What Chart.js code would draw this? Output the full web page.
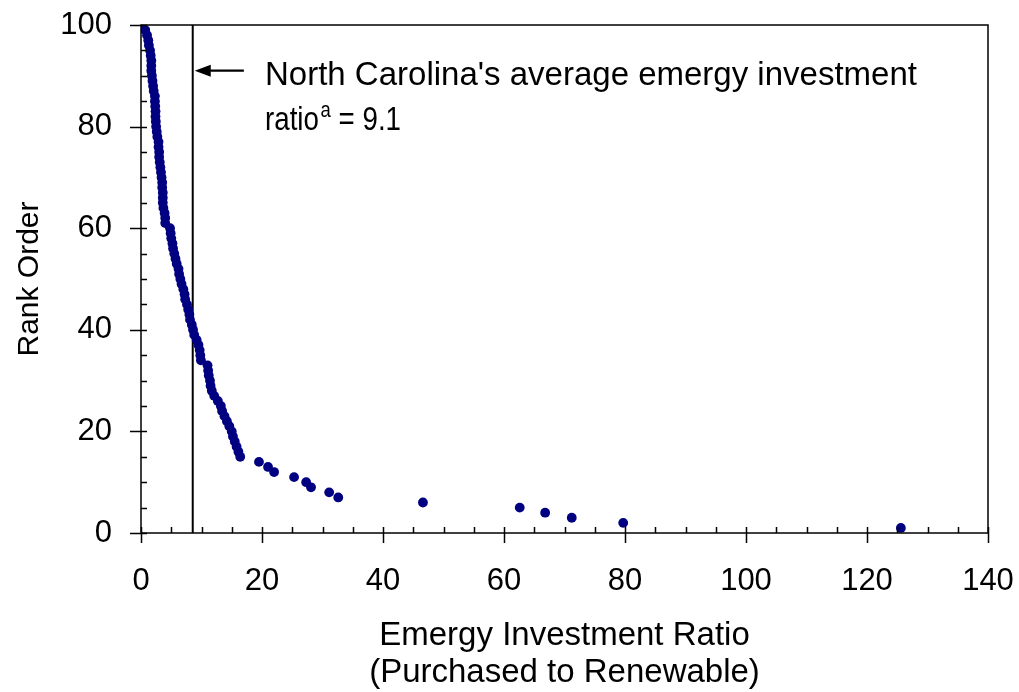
<!DOCTYPE html>
<html>
<head>
<meta charset="utf-8">
<script src="https://cdn.jsdelivr.net/npm/chart.js@4/dist/chart.umd.min.js"></script>
<style>
  body { margin: 0; background: #fff; }
  #wrap { width: 1019px; height: 692px; }
</style>
</head>
<body>
<div id="wrap"><canvas id="rankChart" width="1019" height="692"></canvas></div>
<script>
// Rank order (1 = highest ratio)
const rankOrder = [
  1, 2, 3, 4, 5, 6, 7, 8, 9, 10,
  11, 12, 13, 14, 15, 16, 17, 18, 19, 20,
  21, 22, 23, 24, 25, 26, 27, 28, 29, 30,
  31, 32, 33, 34, 35, 36, 37, 38, 39, 40,
  41, 42, 43, 44, 45, 46, 47, 48, 49, 50,
  51, 52, 53, 54, 55, 56, 57, 58, 59, 60,
  61, 62, 63, 64, 65, 66, 67, 68, 69, 70,
  71, 72, 73, 74, 75, 76, 77, 78, 79, 80,
  81, 82, 83, 84, 85, 86, 87, 88, 89, 90,
  91, 92, 93, 94, 95, 96, 97, 98, 99, 100
];

// Emergy investment ratio for each rank
const investmentRatio = [
  125.6, 79.7, 71.2, 66.8, 62.6, 46.6, 32.6, 31.1, 28.1, 27.3,
  25.3, 22.0, 21.0, 19.5, 16.4, 16.1, 15.8, 15.5, 15.2, 15.0,
  14.6, 14.2, 13.8, 13.4, 13.2, 12.7, 12.1, 11.7, 11.5, 11.4,
  11.2, 11.1, 11.0, 9.9, 9.8, 9.7, 9.5, 9.2, 8.8, 8.6,
  8.4, 8.1, 8.0, 7.8, 7.6, 7.3, 7.2, 7.0, 6.7, 6.5,
  6.3, 6.2, 5.9, 5.7, 5.5, 5.3, 5.2, 5.0, 4.9, 4.8,
  4.0, 4.0, 3.9, 3.7, 3.6, 3.6, 3.6, 3.5, 3.5, 3.4,
  3.3, 3.2, 3.1, 3.0, 3.0, 2.9, 2.9, 2.7, 2.6, 2.5,
  2.45, 2.4, 2.4, 2.35, 2.3, 2.3, 2.1, 2.0, 1.9, 1.8,
  1.7, 1.7, 1.7, 1.6, 1.5, 1.3, 1.2, 1.0, 0.7, 0.2
];

// State average marker line and annotation
const ncAverageLine = 8.55;
const arrowFrom = { x: 17.0, y: 91.0 };
const noteLines = ["North Carolina's average emergy investment", "ratio", "a", " = 9.1"];

const xTicks = { min: 0, max: 140, step: 20, minor: 5 };
const yTicks = { min: 0, max: 100, step: 20, minor: 5 };

const FONT = '"Liberation Sans", Arial, sans-serif';

const points = rankOrder.map((r, i) => ({ x: investmentRatio[i], y: r }));

// keep label overhang from shrinking the plot area
function noOverhang(scale) {
  scale.paddingLeft = 0;
  scale.paddingRight = 0;
  scale.paddingTop = 0;
  scale.paddingBottom = 0;
}

// frame, tick marks, arrow, text
const decorPlugin = {
  id: 'decor',
  afterDatasetsDraw(chart) {
    const ctx = chart.ctx;
    const area = chart.chartArea;
    const xs = chart.scales.x;
    const ys = chart.scales.y;
    ctx.save();
    ctx.strokeStyle = '#000';
    ctx.lineWidth = 1.5;
    ctx.strokeRect(area.left, area.top, area.right - area.left, area.bottom - area.top);

    ctx.beginPath();
    for (let v = yTicks.min; v <= yTicks.max; v += yTicks.minor) {
      const py = Math.round(ys.getPixelForValue(v)) + 0.5;
      ctx.moveTo(area.left, py);
      ctx.lineTo(area.left + 6, py);
      if (v % yTicks.step === 0) {
        ctx.moveTo(area.left - 11, py);
        ctx.lineTo(area.left, py);
      }
    }
    for (let v = xTicks.min; v <= xTicks.max; v += xTicks.minor) {
      const px = Math.round(xs.getPixelForValue(v)) + 0.5;
      ctx.moveTo(px, area.bottom - 6);
      ctx.lineTo(px, area.bottom);
      if (v % xTicks.step === 0) {
        ctx.moveTo(px, area.bottom);
        ctx.lineTo(px, area.bottom + 10);
      }
    }
    ctx.stroke();

    // arrow pointing at the average line
    const ax0 = xs.getPixelForValue(arrowFrom.x);
    const ax1 = xs.getPixelForValue(ncAverageLine) + 2;
    const ay = ys.getPixelForValue(arrowFrom.y);
    ctx.lineWidth = 2.2;
    ctx.beginPath();
    ctx.moveTo(ax0, ay);
    ctx.lineTo(ax1 + 10, ay);
    ctx.stroke();
    ctx.fillStyle = '#000';
    ctx.beginPath();
    ctx.moveTo(ax1, ay);
    ctx.lineTo(ax1 + 16, ay - 6);
    ctx.lineTo(ax1 + 16, ay + 6);
    ctx.closePath();
    ctx.fill();

    // annotation text
    ctx.fillStyle = '#000';
    ctx.textAlign = 'left';
    ctx.textBaseline = 'alphabetic';
    ctx.font = '33px ' + FONT;
    const tx = 265;
    ctx.fillText(noteLines[0], tx, 85);
    // second line is set a little tighter in the original
    ctx.save();
    ctx.translate(tx, 130);
    ctx.scale(0.84, 1);
    ctx.fillText(noteLines[1], 0, 0);
    const w = ctx.measureText(noteLines[1]).width;
    ctx.font = '22px ' + FONT;
    ctx.fillText(noteLines[2], w + 2, -13);
    const w2 = ctx.measureText(noteLines[2]).width;
    ctx.font = '33px ' + FONT;
    ctx.fillText(noteLines[3], w + w2 + 2, 0);
    ctx.restore();

    // axis titles
    ctx.font = '33px ' + FONT;
    ctx.textAlign = 'center';
    const cx = (area.left + area.right) / 2;
    ctx.fillText('Emergy Investment Ratio', cx, 645);
    ctx.fillText('(Purchased to Renewable)', cx, 682);
    ctx.font = '30px ' + FONT;
    ctx.translate(38, (area.top + area.bottom) / 2);
    ctx.rotate(-Math.PI / 2);
    ctx.fillText('Rank Order', 0, 0);
    ctx.restore();
  }
};

const ctxRank = document.getElementById('rankChart').getContext('2d');
const rankChart = new Chart(ctxRank, {
  type: 'scatter',
  data: {
    datasets: [
      {
        label: 'Rank',
        data: points,
        backgroundColor: '#000080',
        borderWidth: 0,
        pointRadius: 4.9,
        pointHoverRadius: 4.9
      },
      {
        label: 'NC average',
        data: [{ x: ncAverageLine, y: yTicks.min }, { x: ncAverageLine, y: yTicks.max }],
        showLine: true,
        borderColor: '#000',
        borderWidth: 2,
        pointRadius: 0
      }
    ]
  },
  options: {
    responsive: false,
    animation: false,
    events: [],
    layout: { padding: { left: 0, top: 25, right: 31, bottom: 0 } },
    plugins: { legend: { display: false }, tooltip: { enabled: false } },
    scales: {
      x: {
        type: 'linear',
        min: xTicks.min,
        max: xTicks.max,
        grid: { display: false },
        border: { display: false },
        ticks: { stepSize: xTicks.step, color: '#000', font: { family: FONT, size: 31 }, padding: 22, maxRotation: 0 },
        afterFit(scale) { scale.height = 159; noOverhang(scale); }
      },
      y: {
        type: 'linear',
        min: yTicks.min,
        max: yTicks.max,
        grid: { display: false },
        border: { display: false },
        ticks: { stepSize: yTicks.step, color: '#000', font: { family: FONT, size: 31 }, padding: 21 },
        afterFit(scale) { scale.width = 141; noOverhang(scale); }
      }
    }
  },
  plugins: [decorPlugin]
});
</script>
</body>
</html>
